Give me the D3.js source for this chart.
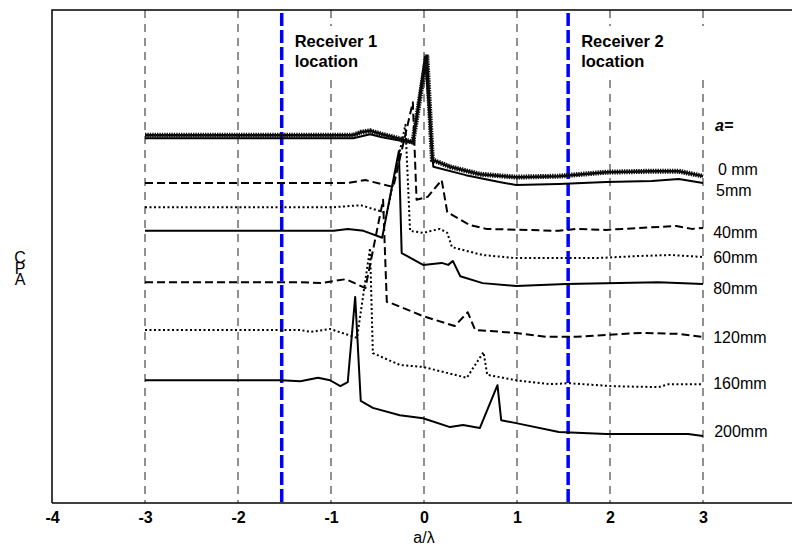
<!DOCTYPE html>
<html>
<head>
<meta charset="utf-8">
<script src="https://cdn.jsdelivr.net/npm/d3@7"></script>
<style>
  body { margin: 0; background: #fff; }
  svg { display: block; }
  text { font-family: "Liberation Sans", Arial, Helvetica, sans-serif; }
</style>
</head>
<body>
<svg width="792" height="548"></svg>
<script>
// a/lambda vs CPA (arbitrary units, curves stacked)
var xTicks = [-4, -3, -2, -1, 0, 1, 2, 3];
var gridX = [-3, -2, -1, 0, 1, 2, 3];
var receivers = [-1.53, 1.55];

var cpa0 = [[-3.0,74.6],[-0.76,74.6],[-0.68,75.2],[-0.58,75.5],[-0.45,74.8],[-0.12,73.2],[0.03,90.9],[0.09,69.6],[0.28,68.2],[0.6,66.7],[0.99,66.1],[1.45,66.3],[1.96,67.1],[2.45,67.3],[2.74,67.3],[3.0,66.3]];
var cpa5 = [[-3.0,74.0],[-0.76,74.0],[-0.58,74.8],[-0.45,74.2],[-0.12,73.0],[0.01,90.5],[0.1,68.2],[0.45,66.5],[0.81,65.1],[0.99,64.5],[1.45,64.7],[1.96,65.1],[2.45,65.3],[2.74,65.7],[3.0,64.9]];
var cpa40 = [[-3.0,64.9],[-0.82,64.9],[-0.63,65.5],[-0.33,64.1],[-0.12,81.3],[-0.08,61.5],[0.04,62.1],[0.19,65.5],[0.25,59.0],[0.49,56.4],[0.67,55.6],[1.45,55.2],[1.64,55.6],[1.96,55.4],[2.71,56.2],[2.88,55.6],[3.0,55.8]];
var cpa60 = [[-3.0,60.0],[-0.97,60.0],[-0.68,60.4],[-0.4,58.8],[-0.2,76.7],[-0.15,55.2],[-0.01,54.8],[0.17,55.6],[0.25,54.8],[0.3,51.9],[0.63,50.3],[0.97,49.7],[1.88,49.7],[2.3,50.1],[2.66,50.3],[3.0,49.9]];
var cpa80 = [[-3.0,55.2],[-0.97,55.2],[-0.82,55.6],[-0.65,55.2],[-0.45,53.8],[-0.27,71.4],[-0.24,50.7],[-0.01,48.3],[0.19,48.7],[0.26,48.3],[0.31,49.1],[0.39,46.0],[0.63,44.6],[0.99,44.0],[1.53,44.4],[2.52,44.8],[3.0,44.4]];
var cpa120 = [[-3.0,44.8],[-1.33,44.8],[-1.11,44.6],[-0.84,45.4],[-0.63,43.6],[-0.44,61.5],[-0.4,40.8],[-0.36,40.6],[-0.01,37.9],[0.33,35.9],[0.47,38.7],[0.55,35.1],[0.99,34.5],[1.31,33.7],[1.64,33.7],[1.96,34.1],[2.34,34.5],[2.74,34.3],[3.0,33.7]];
var cpa160 = [[-3.0,35.1],[-1.33,35.1],[-1.22,34.7],[-1.01,35.3],[-0.72,33.5],[-0.58,51.7],[-0.55,30.4],[-0.26,28.0],[-0.01,27.6],[0.46,25.4],[0.64,30.6],[0.68,26.0],[0.99,24.9],[1.35,24.1],[1.56,24.3],[2.02,23.7],[2.52,23.5],[2.63,24.1],[3.0,24.1]];
var cpa200 = [[-3.0,24.9],[-1.54,24.9],[-1.33,24.7],[-1.14,25.4],[-1.01,24.9],[-0.9,23.7],[-0.82,24.5],[-0.74,41.8],[-0.68,20.7],[-0.55,19.3],[-0.26,17.8],[-0.01,17.2],[0.28,15.4],[0.42,15.8],[0.6,15.2],[0.79,23.9],[0.83,16.8],[0.99,16.2],[1.45,14.4],[1.96,14.0],[2.84,14.0],[3.0,13.6]];

var seriesLabels = ["0 mm", "5mm", "40mm", "60mm", "80mm", "120mm", "160mm", "200mm"];

var svg = d3.select("svg");
var x = d3.scaleLinear().domain([-4, 4]).range([52, 796]);
var y = d3.scaleLinear().domain([0, 100]).range([503, 10]);

// vertical grid
svg.append("g").selectAll("line")
  .data(gridX)
  .enter().append("line")
    .attr("x1", function(d) { return x(d); })
    .attr("x2", function(d) { return x(d); })
    .attr("y1", y(100))
    .attr("y2", y(0))
    .attr("stroke", "#222")
    .attr("stroke-width", 1)
    .attr("stroke-dasharray", "8,6");

// receiver lines
svg.append("g").selectAll("line")
  .data(receivers)
  .enter().append("line")
    .attr("x1", function(d) { return x(d); })
    .attr("x2", function(d) { return x(d); })
    .attr("y1", y(100) + 3)
    .attr("y2", y(0))
    .attr("stroke", "#0000ff")
    .attr("stroke-width", 3.5)
    .attr("stroke-dasharray", "13,4");

// receiver labels (white boxes hide the grid behind them)
var recLabels = [{x: x(receivers[0]) + 5, w: 108, t: "Receiver 1"},
                 {x: x(receivers[1]) + 5, w: 137, t: "Receiver 2"}];
recLabels.forEach(function(r) {
  svg.append("rect")
    .attr("x", r.x).attr("y", 26).attr("width", r.w).attr("height", 52)
    .attr("fill", "#fff");
  svg.append("text")
    .attr("x", r.x + 8).attr("y", 47)
    .attr("font-size", "16.5px").attr("font-weight", "bold")
    .text(r.t);
  svg.append("text")
    .attr("x", r.x + 8).attr("y", 67)
    .attr("font-size", "16.5px").attr("font-weight", "bold")
    .text("location");
});

// frame
svg.append("path")
  .attr("d", "M" + x(-4) + "," + y(0) + "V" + y(100) + "H792")
  .attr("fill", "none").attr("stroke", "#000").attr("stroke-width", 1.5);
svg.append("line")
  .attr("x1", x(-4)).attr("x2", 792).attr("y1", y(0)).attr("y2", y(0))
  .attr("stroke", "#000").attr("stroke-width", 1.5);

var line = d3.line()
  .x(function(d) { return x(d[0]); })
  .y(function(d) { return y(d[1]); });

var curves = [
  {data: cpa200, dash: null},
  {data: cpa160, dash: "2,2.5"},
  {data: cpa120, dash: "8,4"},
  {data: cpa80, dash: null},
  {data: cpa60, dash: "2,2.5"},
  {data: cpa40, dash: "8,4"},
  {data: cpa5, dash: null}
];

curves.forEach(function(c) {
  svg.append("path")
    .datum(c.data)
    .attr("d", line)
    .attr("fill", "none")
    .attr("stroke", "#000")
    .attr("stroke-width", 2)
    .attr("stroke-linejoin", "round")
    .attr("stroke-dasharray", c.dash);
});

// 0 mm: line with dense star markers
svg.append("path")
  .datum(cpa0)
  .attr("d", line)
  .attr("fill", "none")
  .attr("stroke", "#000")
  .attr("stroke-width", 2.5);
svg.append("path")
  .datum(cpa0)
  .attr("d", line)
  .attr("fill", "none")
  .attr("stroke", "#111")
  .attr("stroke-width", 5)
  .attr("stroke-dasharray", "1.4,1");

// series labels
var labelY = [67.7, 63.5, 54.8, 49.9, 43.6, 33.5, 24.3, 14.6];
var labelX = [3.16, 3.14, 3.11, 3.11, 3.11, 3.11, 3.11, 3.12];
svg.append("g").selectAll("text")
  .data(seriesLabels)
  .enter().append("text")
    .attr("x", function(d, i) { return x(labelX[i]); })
    .attr("y", function(d, i) { return y(labelY[i]); })
    .attr("dy", "0.35em")
    .attr("font-size", "16px")
    .text(function(d) { return d; });

svg.append("text")
  .attr("x", x(3.13)).attr("y", 131)
  .attr("font-size", "16px").attr("font-weight", "bold").attr("font-style", "italic")
  .text("a=");

// x axis
var xAxis = svg.append("g")
  .attr("transform", "translate(0," + y(0) + ")")
  .call(d3.axisBottom(x).tickValues(xTicks).tickSize(0).tickPadding(9).tickFormat(d3.format("d")));
xAxis.select(".domain").remove();
xAxis.selectAll("text")
  .attr("font-size", "16px")
  .attr("font-weight", "bold")
  .attr("font-family", "Liberation Sans, Arial, sans-serif")
  .attr("fill", "#000")
  .text(function(d) { return d < 0 ? "-" + Math.abs(d) : d; });

svg.append("text")
  .attr("x", x(0)).attr("y", 543)
  .attr("text-anchor", "middle")
  .attr("font-size", "16px")
  .text("a/\u03bb");

// stacked y label (letters overlap as in the original)
svg.append("g").selectAll("text")
  .data(["C", "P", "A"])
  .enter().append("text")
    .attr("x", 20)
    .attr("y", function(d, i) { return 263 + i * 11; })
    .attr("text-anchor", "middle")
    .attr("font-size", "16px")
    .text(function(d) { return d; });
</script>
</body>
</html>
